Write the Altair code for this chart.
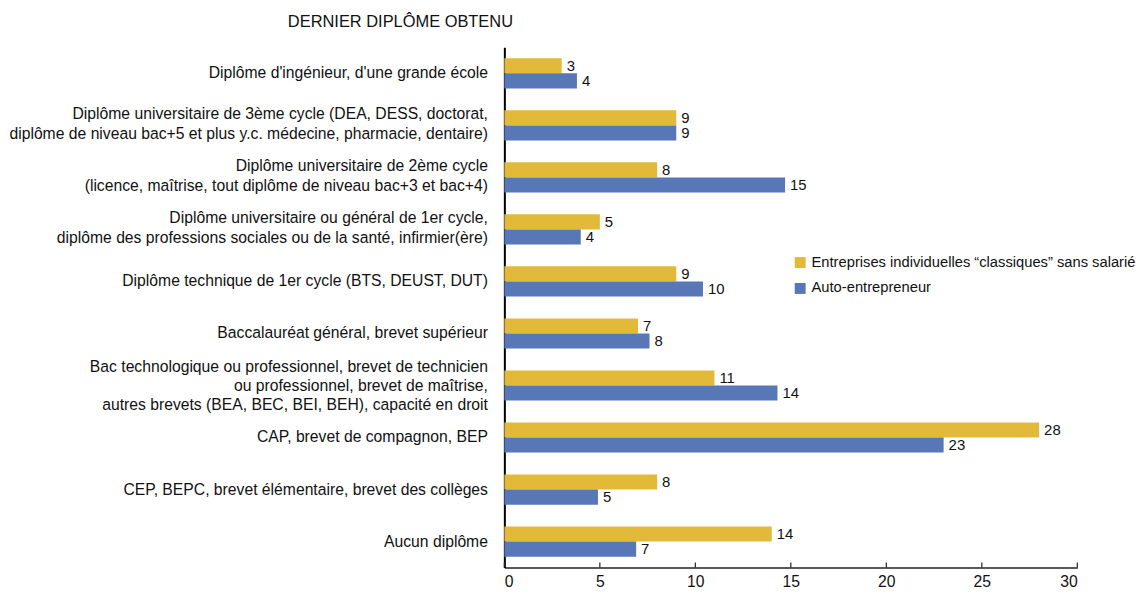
import altair as alt
import pandas as pd

categories = [
    "Diplôme d'ingénieur, d'une grande école",
    "Diplôme universitaire de 3ème cycle (DEA, DESS, doctorat,|diplôme de niveau bac+5 et plus y.c. médecine, pharmacie, dentaire)",
    "Diplôme universitaire de 2ème cycle|(licence, maîtrise, tout diplôme de niveau bac+3 et bac+4)",
    "Diplôme universitaire ou général de 1er cycle,|diplôme des professions sociales ou de la santé, infirmier(ère)",
    "Diplôme technique de 1er cycle (BTS, DEUST, DUT)",
    "Baccalauréat général, brevet supérieur",
    "Bac technologique ou professionnel, brevet de technicien|ou professionnel, brevet de maîtrise,|autres brevets (BEA, BEC, BEI, BEH), capacité en droit",
    "CAP, brevet de compagnon, BEP",
    "CEP, BEPC, brevet élémentaire, brevet des collèges",
    "Aucun diplôme",
]
series = ["Entreprises individuelles “classiques” sans salarié", "Auto-entrepreneur"]
classiques = [3, 9, 8, 5, 9, 7, 11, 28, 8, 14]
auto = [3.8, 9, 14.7, 4, 10.4, 7.6, 14.3, 23, 4.9, 6.9]
x_ticks = [0, 5, 10, 15, 20, 25, 30]
colors = ["#E3B93A", "#5877B7"]

rows = []
for c, a, b in zip(categories, classiques, auto):
    rows.append({"cat": c, "serie": series[0], "val": a})
    rows.append({"cat": c, "serie": series[1], "val": b})
df = pd.DataFrame(rows)
ticks_df = pd.DataFrame({"t": x_ticks})

W, H = 576, 523
FONT = "Liberation Sans"
FS = 15.8

xscale = alt.Scale(domain=[0, 30], nice=False)

label_offset = {
    "condition": [
        {"test": "length(split(datum.label, '|')) == 3", "value": -19},
        {"test": "length(split(datum.label, '|')) == 2", "value": -11},
    ],
    "value": 0,
}

y_enc = alt.Y(
    "cat:N", sort=categories,
    scale=alt.Scale(paddingInner=0.42, paddingOuter=0.21),
    axis=alt.Axis(
        title="DERNIER DIPLÔME OBTENU", titleAngle=0, titleAlign="center",
        titleBaseline="middle", titleX=-105, titleY=-26, titleFontSize=16.5,
        titleFontWeight="normal", titleFont=FONT, titleColor="#111",
        labelExpr="split(datum.label, '|')", labelFontSize=FS, labelFont=FONT,
        labelColor="#111", labelLineHeight=19.5, labelPadding=17, ticks=False,
        labelOffset=label_offset,
        domainColor="#000", domainWidth=2, labelLimit=700,
    ),
)
yoff = alt.YOffset("serie:N", sort=series, scale=alt.Scale(paddingInner=0, paddingOuter=0))

bars = alt.Chart(df).mark_bar().encode(
    x=alt.X("val:Q", scale=xscale, axis=alt.Axis(
        values=x_ticks, title=None, grid=False, tickSize=0, labelFontSize=FS,
        labelFont=FONT, labelColor="#111", labelPadding=7, domainColor="#222",
        domainWidth=1.5, format="d")),
    y=y_enc,
    yOffset=yoff,
    color=alt.Color("serie:N", sort=series,
                    scale=alt.Scale(domain=series, range=colors),
                    legend=alt.Legend(
                        title=None, orient="none", legendX=290, legendY=209,
                        symbolType="square", symbolSize=121, symbolStrokeWidth=0,
                        labelFontSize=14.8, labelFont=FONT, labelColor="#111",
                        labelOffset=4, rowPadding=10, labelLimit=500)),
)

labels = alt.Chart(df).mark_text(align="left", baseline="middle", dx=5, fontSize=15,
                                 font=FONT, color="#111").encode(
    x=alt.X("val:Q", scale=xscale),
    y=alt.Y("cat:N", sort=categories),
    yOffset=yoff,
    text=alt.Text("val:Q", format=".0f"),
)

tick_marks = alt.Chart(ticks_df).mark_rule(color="#222", strokeWidth=1.2).encode(
    x=alt.X("t:Q", scale=xscale),
    y=alt.value(H - 5),
    y2=alt.value(H),
)

chart = alt.layer(bars, labels, tick_marks).properties(
    width=W, height=H, background="white",
    padding={"left": 0, "top": 4, "right": 0, "bottom": 0},
).configure_view(stroke=None)

chart.save("out.html", embed_options={"renderer": "svg", "actions": False})
